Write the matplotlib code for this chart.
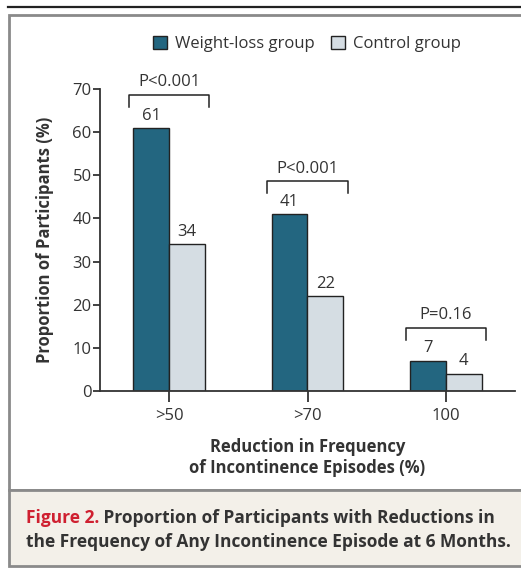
import matplotlib.pyplot as plt
import numpy as np
from matplotlib.patches import Rectangle, Patch
from matplotlib.lines import Line2D

plt.rcParams['font.family'] = ['Open Sans', 'DejaVu Sans']

categories = ['>50', '>70', '100']
weight_loss = [61, 41, 7]
control = [34, 22, 4]
p_values = ['P<0.001', 'P<0.001', 'P=0.16']

teal = '#236680'
pale = '#d5dde3'
ink = '#333333'

fig = plt.figure(figsize=(5.21, 5.73), dpi=100)
W, H = 521, 573

def px(x0, y0, x1, y1):
    # pixel box (top-left origin) -> figure fraction rect
    return [x0 / W, 1 - y1 / H, (x1 - x0) / W, (y1 - y0) / H]

# panel frame and caption box (behind the axes)
fig.add_artist(Line2D([8 / W, 1], [1 - 7 / H] * 2, color='#222222', lw=1.6, zorder=-10))
b = px(9, 15, 530, 490)
fig.add_artist(Rectangle(b[:2], b[2], b[3], facecolor='white', edgecolor='#8a8a8a', lw=2, zorder=-10))
b = px(9, 490, 530, 566)
fig.add_artist(Rectangle(b[:2], b[2], b[3], facecolor='#f3f0e9', edgecolor='#8a8a8a', lw=2, zorder=-10))

ax = fig.add_axes(px(100, 89, 515, 391))
ax.patch.set_alpha(0)
x = np.arange(len(categories))
w = 0.26
ax.bar(x - w / 2, weight_loss, w, color=teal, edgecolor='#222222', lw=1, label='Weight-loss group')
ax.bar(x + w / 2, control, w, color=pale, edgecolor='#222222', lw=1, label='Control group')

fs = 12
for xi, a, c in zip(x, weight_loss, control):
    ax.text(xi - w / 2, a + 1.0, str(a), ha='center', va='bottom', fontsize=fs, color=ink)
    ax.text(xi + w / 2, c + 1.0, str(c), ha='center', va='bottom', fontsize=fs, color=ink)

# significance brackets
for xi, a, p in zip(x, weight_loss, p_values):
    top = a + 7.7
    ax.plot([xi - 0.29, xi - 0.29, xi + 0.29, xi + 0.29], [top - 2.8, top, top, top - 2.8],
            color='#222222', lw=1.1, clip_on=False)
    ax.text(xi, top + 1.0, p, ha='center', va='bottom', fontsize=fs, color=ink)

ax.set_xlim(-0.5, 2.5)
ax.set_ylim(0, 70)
ax.set_yticks(range(0, 71, 10))
ax.set_xticks(x)
ax.set_xticklabels(categories)
for s in ['top', 'right']:
    ax.spines[s].set_visible(False)
for s in ['left', 'bottom']:
    ax.spines[s].set_color(ink)
    ax.spines[s].set_linewidth(1.3)
ax.tick_params(axis='y', length=5, width=1.3, color=ink, labelcolor=ink, labelsize=fs, pad=1)
ax.tick_params(axis='x', length=8, width=1.3, color=ink, labelcolor=ink, labelsize=fs, pad=4)

ax.set_ylabel('Proportion of Participants (%)', fontsize=12, fontweight='bold', color=ink, labelpad=13)
ax.set_xlabel('Reduction in Frequency\nof Incontinence Episodes (%)', fontsize=12,
              fontweight='bold', color=ink, labelpad=10, linespacing=1.25)

handles = [Patch(facecolor=teal, edgecolor='#222222'), Patch(facecolor=pale, edgecolor='#222222')]
fig.legend(handles, ['Weight-loss group', 'Control group'], loc='center', ncol=2,
           bbox_to_anchor=(307 / W, 1 - 44 / H), frameon=False, fontsize=fs,
           handlelength=0.8, handleheight=0.8, handletextpad=0.5, columnspacing=1.0,
           labelcolor=ink)

# caption
cs = 12.5
t = fig.text(26 / W, 1 - 518 / H, 'Figure 2.', color='#cf2030', fontsize=cs,
             fontweight='bold', va='center', ha='left')
ax.annotate(' Proportion of Participants with Reductions in', xy=(1, 0.5), xycoords=t,
            va='center', ha='left', fontsize=cs, fontweight='bold', color=ink,
            annotation_clip=False)
fig.text(26 / W, 1 - 542 / H, 'the Frequency of Any Incontinence Episode at 6 Months.',
         color=ink, fontsize=cs, fontweight='bold', va='center', ha='left')

fig.savefig('out.png', dpi=100)
